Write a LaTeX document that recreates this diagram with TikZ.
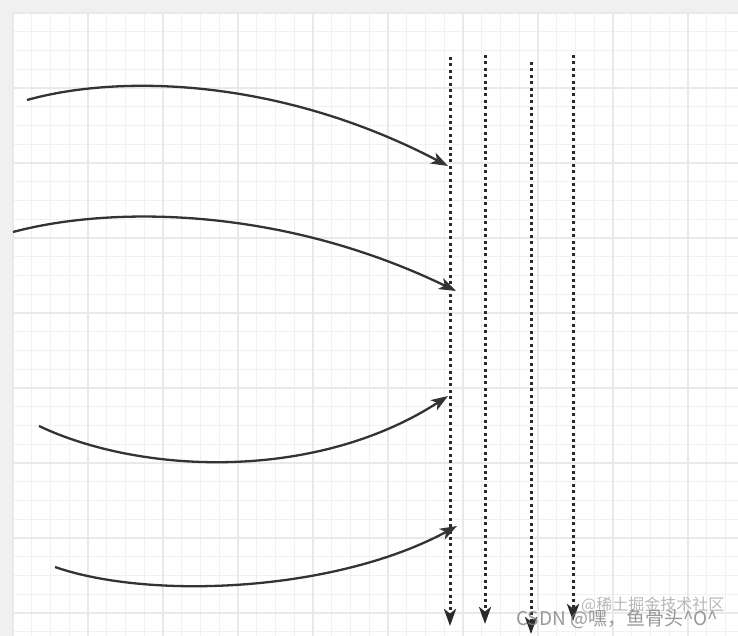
\documentclass[tikz,border=0pt]{standalone}
\usepackage{fontspec}
\newfontfamily\cjk{Noto Sans CJK SC}
\usetikzlibrary{arrows.meta}

\definecolor{sheet}{HTML}{F0F0F0}
\definecolor{minorgrid}{HTML}{F1F1F1}
\definecolor{majorgrid}{HTML}{E9E9E9}
\definecolor{ink}{HTML}{333333}
\definecolor{dots}{HTML}{2A2A2A}

\tikzset{
  flow/.style={draw=ink, line width=2.3pt, -{Stealth[length=17pt,width=12pt,inset=4.5pt]}},
  lane/.style={draw=dots, line width=3pt, dash pattern=on 3pt off 3.4pt,
    -{Stealth[length=17pt,width=12pt,inset=4.5pt]}},
  stamp/.style={text=gray, opacity=0.8, inner sep=0pt}
}

\begin{document}
\begin{tikzpicture}[x=1pt,y=-1pt]
  \useasboundingbox (0,0) rectangle (738,636);
  \fill[sheet] (0,0) rectangle (738,636);
  \fill[white] (13,13) rectangle (738,636);

  % grid
  \foreach \k in {0,...,38} {
    \draw[minorgrid, line width=1pt] ({13+18.75*\k},13) -- ({13+18.75*\k},636);
  }
  \foreach \k in {0,...,33} {
    \draw[minorgrid, line width=1pt] (13,{13+18.75*\k}) -- (738,{13+18.75*\k});
  }
  \foreach \k in {0,...,9} {
    \draw[majorgrid, line width=1.1pt] ({13+75*\k},13) -- ({13+75*\k},636);
  }
  \foreach \k in {0,...,8} {
    \draw[majorgrid, line width=1.1pt] (13,{13+75*\k}) -- (738,{13+75*\k});
  }

  % lanes
  \coordinate (l1top) at (450,57);  \coordinate (l1end) at (450,626);
  \coordinate (l2top) at (485,55);  \coordinate (l2end) at (485,624);
  \coordinate (l3top) at (531,62);  \coordinate (l3end) at (531,634);
  \coordinate (l4top) at (573,55);  \coordinate (l4end) at (573,621);

  \draw[lane] (l1top) -- (l1end);
  \draw[lane] (l2top) -- (l2end);
  \draw[lane] (l3top) -- (l3end);
  \draw[lane] (l4top) -- (l4end);

  % incoming curves
  \coordinate (s1) at (27,100);  \coordinate (e1) at (448,166);
  \coordinate (s2) at (13,232);  \coordinate (e2) at (456,291);
  \coordinate (s3) at (39,426);  \coordinate (e3) at (448,396);
  \coordinate (s4) at (55,567);  \coordinate (e4) at (457,526);

  \draw[flow] (s1) .. controls (120,74) and (280,78) .. (e1);
  \draw[flow] (s2) .. controls (110,206) and (280,206) .. (e2);
  \draw[flow] (s3) .. controls (140,474) and (315,482) .. (e3);
  \draw[flow] (s4) .. controls (150,600) and (335,592) .. (e4);

  % watermarks
  \node[stamp, anchor=west, font=\cjk\fontsize{16}{16}\selectfont, text=gray!70] (juejin) at (581,605) {@稀土掘金技术社区};
  \node[stamp, anchor=west, font=\cjk\fontsize{19}{19}\selectfont] (csdn) at (516,619) {CSDN @嘿，鱼骨头\^{}O\^{}};
\end{tikzpicture}
\end{document}
